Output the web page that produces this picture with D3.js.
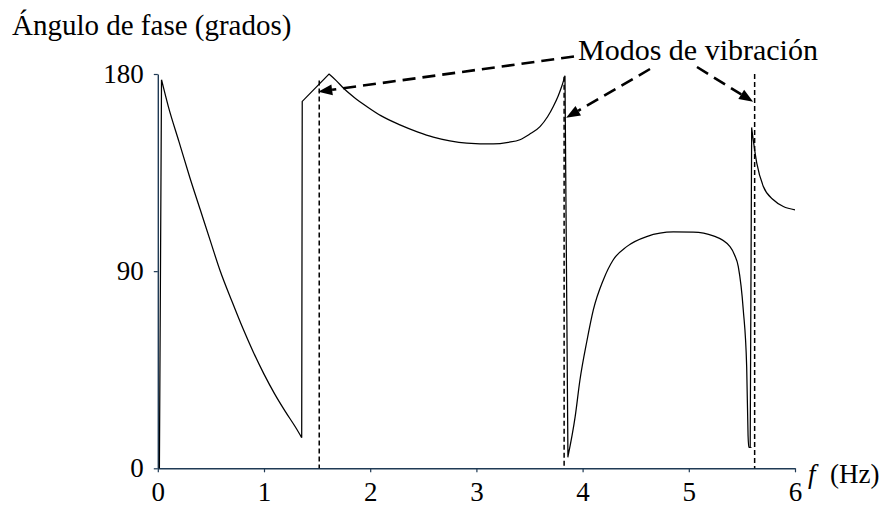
<!DOCTYPE html>
<html>
<head>
<meta charset="utf-8">
<script src="https://cdn.jsdelivr.net/npm/d3@7/dist/d3.min.js"></script>
<style>
  html, body { margin: 0; padding: 0; background: #fff; }
  svg { display: block; }
  text { font-family: "Liberation Serif", "Times New Roman", serif; fill: #000; }
</style>
</head>
<body>
<svg id="chart" width="886" height="506"></svg>
<script>
// Phase angle response (degrees) versus frequency (Hz)
const freq = [
  0.015, 0.035, 0.1, 0.2, 0.3, 0.4, 0.5, 0.586, 0.7, 0.8, 0.9, 1.0, 1.1, 1.2, 1.3, 1.355,
  1.36, 1.612, 1.68, 1.747, 1.85, 1.967, 2.1, 2.28, 2.45, 2.594, 2.75, 2.909, 3.159, 3.3, 3.41,
  3.5, 3.599, 3.67, 3.724, 3.77, 3.803, 3.834,
  3.862, 3.93, 3.975, 4.04, 4.101, 4.195, 4.289, 4.415, 4.603, 4.854, 5.042, 5.231, 5.388, 5.43,
  5.466, 5.513, 5.545, 5.558, 5.565, 5.578,
  5.592, 5.64, 5.702, 5.796, 5.89, 6.0
];
const phase = [
  0, 177.4, 165, 149, 133, 118, 103, 90.3, 76, 64, 53, 43, 34, 26, 18.5, 14,
  167.5, 180, 177, 173.6, 169.3, 165.2, 161, 156.8, 153.5, 151.2, 149.5, 148.5, 148.1, 148.8, 150,
  152.5, 156, 160.5, 165.2, 170, 174.3, 179.2,
  5.3, 23.6, 40.3, 58, 72.3, 86, 95.2, 101.2, 105.8, 107.9, 107.8, 106.1, 101.2, 97.5,
  92.1, 72.3, 46.4, 15, 9.5, 9.5,
  155.3, 139.3, 128.6, 122.6, 119.5, 118
];
// Frequencies where the response has a sharp corner (jumps and cusps)
const cornerFreq = [0.015, 0.035, 1.355, 1.36, 1.612, 3.834, 3.862, 5.578, 5.592, 6.0];

// Natural modes marked with dashed verticals
const modeFreq = [1.52, 3.826, 5.62];
const modeTop = [177, 178.7, 180];
// Arrow tips (degrees) and tip offsets from the mode line
const arrowTipDeg = [171.9, 160, 167.3];
const arrowTipDx = [-1, 2, -1.5];

const xTicks = [0, 1, 2, 3, 4, 5, 6];
const yTicks = [0, 90, 180];

const titleText = "Ángulo de fase (grados)";
const annotationText = "Modos de vibración";

const svg = d3.select("#chart");
const axisColor = "#1f3a55";

const x = d3.scaleLinear().domain([0, 6]).range([157.8, 795]);
const y = d3.scaleLinear().domain([0, 180]).range([468.3, 74]);

// Axes
const gx = svg.append("g")
  .attr("transform", `translate(0,${y(0)})`)
  .call(d3.axisBottom(x).tickValues(xTicks).tickFormat(d3.format("d"))
    .tickSize(4).tickSizeOuter(0).tickPadding(10));
const gy = svg.append("g")
  .attr("transform", `translate(${x(0)},0)`)
  .call(d3.axisLeft(y).tickValues(yTicks).tickFormat(d3.format("d"))
    .tickSize(4).tickSizeOuter(0).tickPadding(10));

[gx, gy].forEach(g => {
  g.select(".domain").attr("stroke", axisColor).attr("stroke-width", 1.4);
  g.selectAll(".tick line").attr("stroke", axisColor).attr("stroke-width", 1.2);
  g.selectAll(".tick text")
    .attr("fill", "#000")
    .style("font-family", '"Liberation Serif", serif')
    .style("font-size", "27px");
});

// Dashed mode lines
svg.append("g").selectAll("line")
  .data(modeFreq)
  .join("line")
  .attr("x1", d => x(d)).attr("x2", d => x(d))
  .attr("y1", (d, i) => y(modeTop[i])).attr("y2", y(0))
  .attr("stroke", "#000")
  .attr("stroke-width", 1.5)
  .attr("stroke-dasharray", "5,3");

// Phase curve: smooth runs between corner points
const pts = freq.map((f, i) => [f, phase[i]]);
const cornerIdx = cornerFreq.map(c => freq.indexOf(c));
const line = d3.line()
  .x(d => x(d[0]))
  .y(d => y(d[1]))
  .curve(d3.curveMonotoneX);
let pathD = "";
for (let k = 0; k < cornerIdx.length - 1; k++) {
  const run = pts.slice(cornerIdx[k], cornerIdx[k + 1] + 1);
  const seg = line(run);
  pathD += k === 0 ? seg : seg.replace(/^M[^A-Za-z]*/, "L" + x(run[0][0]) + "," + y(run[0][1]));
}
svg.append("path")
  .attr("d", pathD)
  .attr("fill", "none")
  .attr("stroke", "#000")
  .attr("stroke-width", 1.25)
  .attr("stroke-linejoin", "miter");

// Axis titles
svg.append("text")
  .attr("x", 12).attr("y", 35)
  .style("font-size", "29px")
  .text(titleText);

const fLabel = svg.append("text")
  .attr("y", 483)
  .style("font-size", "27px");
fLabel.append("tspan").attr("x", 808).style("font-style", "italic").text("f");
fLabel.append("tspan").attr("x", 830).text("(Hz)");

// Annotation with dashed arrows
const annX = 578, annY = 60;
svg.append("text")
  .attr("x", annX).attr("y", annY)
  .style("font-size", "30px")
  .text(annotationText);

const arrowStarts = [[574, 56.5], [650, 69], [697, 67]];
const arrows = svg.append("g");
modeFreq.forEach((m, i) => {
  const tx = x(m) + arrowTipDx[i], ty = y(arrowTipDeg[i]);
  const [sx, sy] = arrowStarts[i];
  const ang = Math.atan2(ty - sy, tx - sx);
  const headLen = 14, headW = 5.5;
  const bx = tx - headLen * Math.cos(ang), by = ty - headLen * Math.sin(ang);
  arrows.append("line")
    .attr("x1", sx).attr("y1", sy).attr("x2", bx).attr("y2", by)
    .attr("stroke", "#000").attr("stroke-width", 2.6)
    .attr("stroke-dasharray", "13,7");
  const px = -Math.sin(ang), py = Math.cos(ang);
  arrows.append("polygon")
    .attr("points", [
      [tx, ty],
      [bx + px * headW, by + py * headW],
      [bx - px * headW, by - py * headW]
    ].map(p => p.join(",")).join(" "))
    .attr("fill", "#000");
});
</script>
</body>
</html>
